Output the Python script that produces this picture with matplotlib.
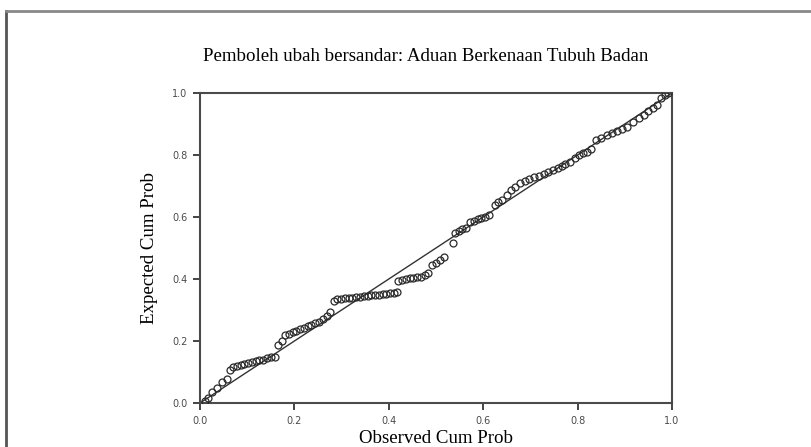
import matplotlib.pyplot as plt
from matplotlib.lines import Line2D

# observed vs expected cumulative probabilities (P-P plot)
obs = [0.010, 0.017, 0.025, 0.036, 0.047, 0.057,
       0.064, 0.070, 0.078, 0.086, 0.094, 0.102, 0.110, 0.118, 0.126, 0.134, 0.142, 0.150, 0.158,
       0.165, 0.174, 0.180, 0.188, 0.196, 0.204, 0.212, 0.220, 0.228, 0.236, 0.244, 0.252, 0.260, 0.270, 0.276,
       0.283, 0.291, 0.299, 0.307, 0.315, 0.323, 0.331, 0.339, 0.347, 0.355, 0.363, 0.371, 0.379, 0.387, 0.395,
       0.403, 0.411, 0.418,
       0.420, 0.428, 0.436, 0.444, 0.452, 0.460, 0.468, 0.476, 0.484,
       0.492, 0.500, 0.508, 0.516, 0.535,
       0.540, 0.548, 0.556, 0.564, 0.572, 0.580, 0.588, 0.596, 0.604, 0.612, 0.625, 0.632, 0.640, 0.650,
       0.658, 0.668, 0.678, 0.688, 0.698, 0.708, 0.718, 0.728, 0.738, 0.748, 0.758, 0.766, 0.774, 0.784,
       0.794, 0.804, 0.812, 0.820, 0.828, 0.840, 0.850, 0.862, 0.872, 0.883, 0.894, 0.905, 0.917, 0.930,
       0.940, 0.950, 0.960, 0.968, 0.976, 0.985, 0.992]
exp = [0.005, 0.016, 0.035, 0.048, 0.068, 0.078,
       0.106, 0.115, 0.118, 0.122, 0.126, 0.130, 0.132, 0.134, 0.138, 0.140, 0.144, 0.147, 0.150,
       0.187, 0.200, 0.218, 0.224, 0.228, 0.232, 0.238, 0.242, 0.248, 0.252, 0.258, 0.262, 0.270, 0.282, 0.292,
       0.330, 0.334, 0.336, 0.338, 0.339, 0.340, 0.342, 0.343, 0.345, 0.346, 0.348, 0.349, 0.350, 0.351, 0.352,
       0.354, 0.356, 0.358,
       0.392, 0.398, 0.400, 0.402, 0.404, 0.406, 0.408, 0.412, 0.418,
       0.445, 0.452, 0.460, 0.470, 0.515,
       0.548, 0.555, 0.560, 0.565, 0.585, 0.588, 0.592, 0.596, 0.600, 0.605, 0.640, 0.648, 0.655, 0.672,
       0.688, 0.698, 0.710, 0.716, 0.722, 0.728, 0.733, 0.740, 0.746, 0.752, 0.758, 0.764, 0.770, 0.777,
       0.790, 0.800, 0.806, 0.810, 0.818, 0.848, 0.855, 0.865, 0.872, 0.878, 0.884, 0.890, 0.906, 0.920,
       0.930, 0.942, 0.952, 0.962, 0.985, 0.995, 1.000]
ticks = [0.0, 0.2, 0.4, 0.6, 0.8, 1.0]
tick_labels = ['0.0', '0.2', '0.4', '0.6', '0.8', '1.0']

fig = plt.figure(figsize=(8.12, 4.47), dpi=100)
ax = fig.add_axes([0.2463, 0.0984, 0.5813, 0.6936])

ax.plot([0, 1], [0, 1], color='#333333', lw=1.0, zorder=2)
ax.plot(obs, exp, 'o', mfc='none', mec='#2a2a2a', ms=5, mew=0.9, zorder=3)

ax.set_xlim(0, 1)
ax.set_ylim(0, 1)
ax.set_xticks(ticks)
ax.set_xticklabels(tick_labels)
ax.set_yticks(ticks)
ax.set_yticklabels(tick_labels)
ax.tick_params(direction='out', length=5, width=1.4, color='#444444',
               labelsize=7, labelcolor='#4a4a4a', pad=4)
for s in ax.spines.values():
    s.set_linewidth(1.5)
    s.set_color('#4a4a4a')

serif = ['Liberation Serif', 'DejaVu Serif']
ax.set_title('Pemboleh ubah bersandar: Aduan Berkenaan Tubuh Badan',
             family=serif, fontsize=13.6, pad=23, x=0.478)
ax.set_xlabel('Observed Cum Prob', family=serif, fontsize=13.6, labelpad=3)
ax.set_ylabel('Expected Cum Prob', family=serif, fontsize=13.6, labelpad=10)

# outer frame of the page
fig.add_artist(Line2D([0.0074, 0.0074], [0.0, 0.975], color='#555555', lw=2))
fig.add_artist(Line2D([0.0074, 1.0], [0.975, 0.975], color='#888888', lw=2))

fig.savefig('out.png', dpi=100)
